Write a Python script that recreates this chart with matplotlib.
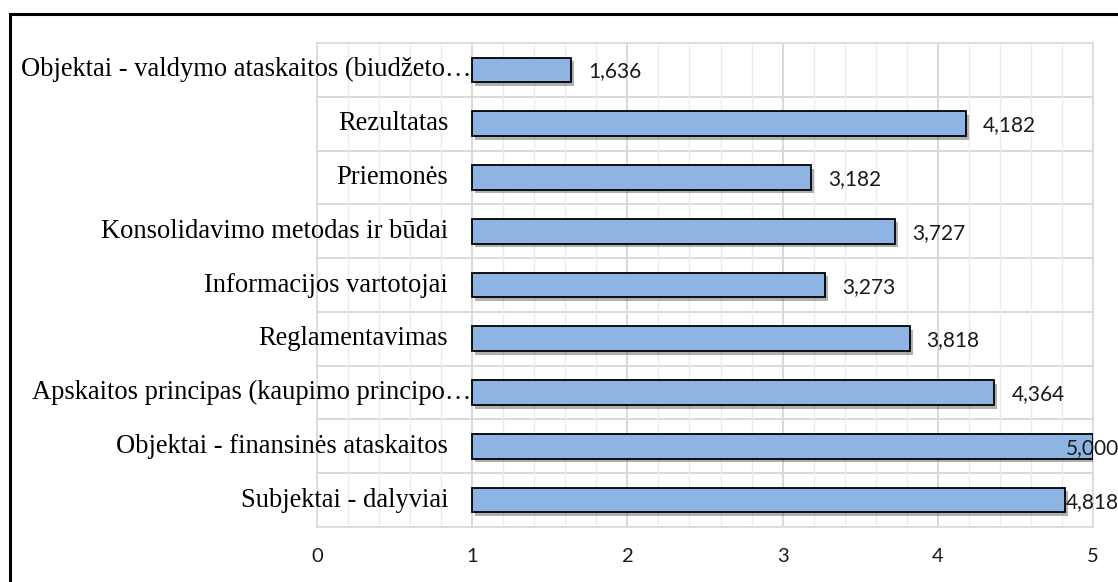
import matplotlib
matplotlib.use("Agg")
import matplotlib.pyplot as plt
import matplotlib.patheffects as pe
from matplotlib.patches import Rectangle
from matplotlib.ticker import MultipleLocator

# Chart data (top row first)
categories = [
    "Objektai - valdymo ataskaitos (biudžeto…",
    "Rezultatas",
    "Priemonės",
    "Konsolidavimo metodas ir būdai",
    "Informacijos vartotojai",
    "Reglamentavimas",
    "Apskaitos principas (kaupimo principo…",
    "Objektai - finansinės ataskaitos",
    "Subjektai - dalyviai",
]
values = [1.636, 4.182, 3.182, 3.727, 3.273, 3.818, 4.364, 5.000, 4.818]
x_ticks = [0, 1, 2, 3, 4, 5]
axis_cross = 1  # value axis crosses the category axis here

W, H = 1118, 582
fig = plt.figure(figsize=(W / 100, H / 100), dpi=100)
fig.patch.set_facecolor("white")

ax = fig.add_axes([317 / W, 1 - 527 / H, (1093 - 317) / W, (527 - 43) / H])

n = len(categories)
ypos = list(range(n))

# gridlines
grid_major = "#D9D9D9"
grid_minor = "#EBEBEB"
ax.set_xlim(x_ticks[0], x_ticks[-1])
ax.set_ylim(n - 0.5, -0.5)
ax.xaxis.set_major_locator(MultipleLocator(1))
ax.xaxis.set_minor_locator(MultipleLocator(0.2))
ax.grid(which="minor", axis="x", color=grid_minor, lw=1.0, zorder=0)
ax.grid(which="major", axis="x", color=grid_major, lw=1.4, zorder=0)
for b in range(n + 1):
    ax.axhline(b - 0.5, color=grid_major, lw=1.4, zorder=0)
ax.set_axisbelow(True)
for s in ax.spines.values():
    s.set_color(grid_major)
    s.set_linewidth(1.2)

# bars starting at the axis crossing point
bars = ax.barh(
    ypos,
    [v - axis_cross for v in values],
    left=axis_cross,
    height=0.46,
    color="#8DB4E2",
    edgecolor="black",
    linewidth=1.3,
    zorder=3,
)
for bar in bars:
    bar.set_path_effects([
        pe.SimplePatchShadow(offset=(2.2, -2.6), shadow_rgbFace="#3A3A3A", alpha=0.4),
        pe.Normal(),
    ])

# value labels, kept inside the chart at the right edge
px_per_unit = (1093 - 317) / (x_ticks[-1] - x_ticks[0])
label_gap = 17 / px_per_unit
label_max_x = (1066 - 317) / px_per_unit
for y, v in zip(ypos, values):
    lx = min(v + label_gap, label_max_x)
    ax.text(lx, y + 0.03, f"{v:.3f}".replace(".", ","), ha="left", va="center",
            fontsize=15, family="Lato", color="#1A1A1A", zorder=5, clip_on=False)

# category labels beside the crossing axis
ax.set_yticks([])
for y, cat in zip(ypos, categories):
    gap = -1 if cat.endswith("…") else -24
    ax.annotate(cat, xy=(axis_cross, y), xytext=(gap * 0.72, 0),
                textcoords="offset points", ha="right", va="center",
                fontsize=19.1, family="Liberation Serif", color="black",
                annotation_clip=False, zorder=5)

ax.set_xticks(x_ticks)
ax.set_xticklabels([str(t) for t in x_ticks], fontsize=14.5, family="Lato", color="#1A1A1A")
ax.tick_params(axis="x", which="both", length=0, pad=15)

# outer chart frame
fig.patches.append(Rectangle((10 / W, -0.2), 1.5, (H - 13.5) / H + 0.2,
                             transform=fig.transFigure, fill=False,
                             edgecolor="black", linewidth=2.2, zorder=10))

fig.savefig("out.png", dpi=100, facecolor="white")
